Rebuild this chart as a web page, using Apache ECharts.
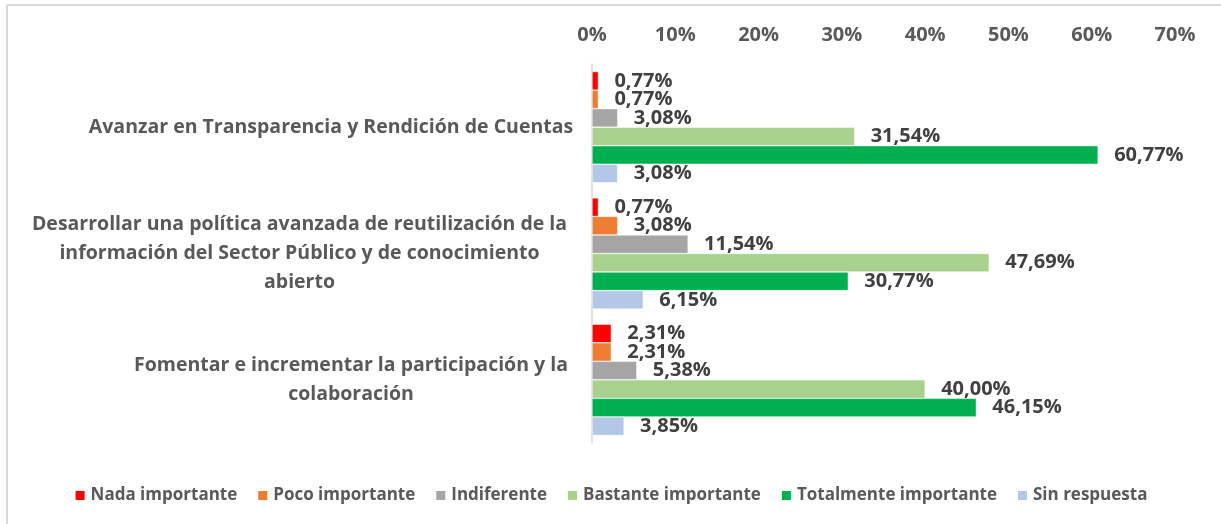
<!DOCTYPE html>
<html>
<head>
<meta charset="utf-8">
<script src="https://cdn.jsdelivr.net/npm/echarts@6/dist/echarts.min.js"></script>
<style>
  html, body { margin: 0; padding: 0; background: #fff; }
  #chart { width: 1221px; height: 524px; }
</style>
</head>
<body>
<div id="chart"></div>
<script>
// categories, top to bottom
const categories = [
    "Avanzar en Transparencia y Rendición de Cuentas",
    "Desarrollar una política avanzada de reutilización de la\ninformación del Sector Público y de conocimiento\nabierto",
    "Fomentar e incrementar la participación y la\ncolaboración",
];

const series_names = [
    "Nada importante",
    "Poco importante",
    "Indiferente",
    "Bastante importante",
    "Totalmente importante",
    "Sin respuesta",
];

// percent values per series, one per category
const nada_importante = [0.77, 0.77, 2.31];
const poco_importante = [0.77, 3.08, 2.31];
const indiferente = [3.08, 11.54, 5.38];
const bastante_importante = [31.54, 47.69, 40.0];
const totalmente_importante = [60.77, 30.77, 46.15];
const sin_respuesta = [3.08, 6.15, 3.85];

const series_values = [
    nada_importante,
    poco_importante,
    indiferente,
    bastante_importante,
    totalmente_importante,
    sin_respuesta,
];

const colors = ["#FF0000", "#ED7D31", "#A5A5A5", "#A9D18E", "#00B050", "#B4C7E7"];

const FONT = "Open Sans";
// widths of the centred text blocks next to the axis
const label_widths = [482, 545, 442];

const fmt_pct = (v) => v.toFixed(2).replace(".", ",") + "%";

const chart = echarts.init(document.getElementById("chart"), null, { renderer: "canvas" });

const rich = {};
label_widths.forEach((w, i) => {
    rich["c" + i] = {
        width: w,
        align: "center",
        fontFamily: FONT,
        fontWeight: "bold",
        fontSize: 19.5,
        lineHeight: 29,
        color: "#595959",
    };
});

chart.setOption({
    animation: false,
    color: colors,
    textStyle: { fontFamily: FONT },
    grid: { left: 592, right: 46, top: 64, bottom: 81 },
    graphic: [
        {
            type: "line",
            shape: { x1: 7, y1: 5, x2: 7, y2: 524 },
            style: { stroke: "#d9d9d9", lineWidth: 2 },
        },
        {
            type: "line",
            shape: { x1: 7, y1: 5, x2: 1221, y2: 5 },
            style: { stroke: "#d9d9d9", lineWidth: 2 },
        },
    ],
    legend: {
        top: 482,
        left: "center",
        icon: "rect",
        itemWidth: 11,
        itemHeight: 11,
        itemGap: 19,
        textStyle: {
            fontFamily: FONT,
            fontWeight: "bold",
            fontSize: 17,
            color: "#595959",
            padding: [0, 0, 0, 0],
        },
        data: series_names,
    },
    xAxis: {
        type: "value",
        position: "top",
        min: 0,
        max: 70,
        interval: 10,
        axisLine: { show: false },
        axisTick: { show: false },
        splitLine: { show: false },
        axisLabel: {
            formatter: "{value}%",
            margin: 19,
            fontFamily: FONT,
            fontWeight: "bold",
            fontSize: 20,
            color: "#595959",
        },
    },
    yAxis: {
        type: "category",
        inverse: true,
        data: categories,
        axisLine: { lineStyle: { color: "#d9d9d9", width: 1.5 } },
        axisTick: { length: 7, lineStyle: { color: "#d9d9d9", width: 1.5 } },
        axisLabel: {
            margin: 20,
            formatter: (value, idx) =>
                value
                    .split("\n")
                    .map((line) => `{c${idx}|${line}}`)
                    .join("\n"),
            rich,
        },
    },
    series: series_names.map((name, i) => ({
        name,
        type: "bar",
        data: series_values[i],
        barGap: "0%",
        barCategoryGap: "12%",
        itemStyle: { color: colors[i], borderColor: "#ffffff", borderWidth: 0.5 },
        label: {
            show: true,
            position: "right",
            distance: 16,
            formatter: (p) => fmt_pct(p.value),
            fontFamily: FONT,
            fontWeight: "bold",
            fontSize: 20,
            color: "#404040",
        },
    })),
});
</script>
</body>
</html>
